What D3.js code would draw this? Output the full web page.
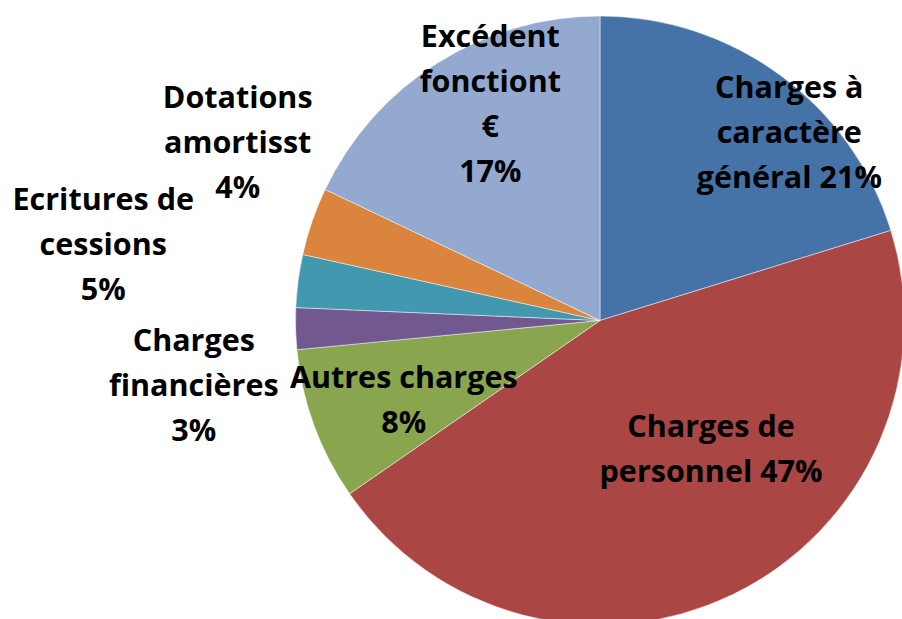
<!DOCTYPE html>
<html>
<head>
<meta charset="utf-8">
<script src="https://cdn.jsdelivr.net/npm/d3@7"></script>
<style>
	body { margin: 0; background: #fff; }
	.sliceLabel { font-family: 'Open Sans', Lato, sans-serif; font-weight: bold; fill: #000; }
</style>
</head>
<body>
<div id="pieChart"></div>
<script>
// shares of each slice, clockwise from 12 o'clock
const categories = [
	'Charges à caractère général',
	'Charges de personnel',
	'Autres charges',
	'Charges financières',
	'Ecritures de cessions',
	'Dotations amortisst',
	'Excédent fonctiont €'
];
const values = [20.2, 45.1, 8.1, 2.2, 2.8, 3.6, 17.9];
// data label text as printed on the chart (one entry per line)
const labelLines = [
	['Charges à', 'caractère', 'général 21%'],
	['Charges de', 'personnel 47%'],
	['Autres charges', '8%'],
	['Charges', 'financières', '3%'],
	['Ecritures de', 'cessions', '5%'],
	['Dotations', 'amortisst', '4%'],
	['Excédent', 'fonctiont', '€', '17%']
];
const colors = ['#4572A7', '#AA4643', '#89A54E', '#71588F', '#4198AF', '#DB843D', '#93A9CF'];

// where excel's "best fit" put each label: angle (deg, clockwise from top) and distance in radii
const labelPlace = [
	[45.2, 0.876], [139.2, 0.558], [247.8, 0.696], [260.9, 1.351],
	[278.6, 1.65], [296.1, 1.325], [333.1, 0.796]
];

const width = 902, height = 619;
const cx = 600, cy = 320.5, radius = 304.5;
const fontSize = 30.5, lineHeight = 45;

const svg = d3.select('#pieChart')
	.append('svg')
	.attr('width', width)
	.attr('height', height);

const g = svg.append('g').attr('transform', 'translate(' + cx + ',' + cy + ')');

const pie = d3.pie().sort(null).value((d) => d);
const arcs = pie(values);
const arc = d3.arc().innerRadius(0).outerRadius(radius);

g.selectAll('path.slice')
	.data(arcs)
	.enter()
	.append('path')
	.attr('class', 'slice')
	.attr('d', arc)
	.style('fill', (d, i) => colors[i])
	.style('stroke', '#fff')
	.style('stroke-width', 0.6)
	.style('stroke-opacity', 0.8);

const labels = g.selectAll('text.sliceLabel')
	.data(arcs)
	.enter()
	.append('text')
	.attr('class', 'sliceLabel')
	.attr('text-anchor', 'middle')
	.style('font-size', fontSize + 'px')
	.attr('transform', (d, i) => {
		const a = labelPlace[i][0] * Math.PI / 180;
		const r = labelPlace[i][1] * radius;
		return 'translate(' + (r * Math.sin(a)) + ',' + (-r * Math.cos(a)) + ')';
	});

labels.each(function (d, i) {
	const lines = labelLines[i];
	const first = -(lines.length - 1) * lineHeight / 2 + 10;
	d3.select(this)
		.selectAll('tspan')
		.data(lines)
		.enter()
		.append('tspan')
		.attr('x', 0)
		.attr('y', (t, j) => first + j * lineHeight)
		.text((t) => t);
});
</script>
</body>
</html>
